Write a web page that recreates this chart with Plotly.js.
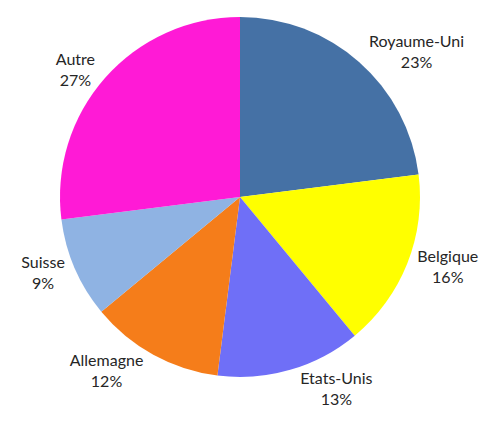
<!DOCTYPE html>
<html>
<head>
<meta charset="utf-8">
<script src="https://cdn.plot.ly/plotly-3.0.1.min.js"></script>
<style>html,body{margin:0;padding:0;background:#fff;}#chart{width:498px;height:421px;}</style>
</head>
<body>
<div id="chart"></div>
<script>
const labels = ["Royaume-Uni", "Belgique", "Etats-Unis", "Allemagne", "Suisse", "Autre"];
const values = [23, 16, 13, 12, 9, 27];
const colors = ["#4571A5", "#FFFF00", "#6F6FF7", "#F57D1A", "#8FB3E3", "#FF1AD6"];

const trace = {
  type: "pie",
  labels: labels,
  values: values,
  sort: false,
  direction: "clockwise",
  rotation: 0,
  marker: {colors: colors, line: {width: 0}},
  textposition: "outside",
  texttemplate: "%{label}<br>%{percent:.0%}",
  textfont: {family: "Lato, 'Open Sans', sans-serif", size: 16, color: "#262626"},
  automargin: false,
  showlegend: false,
  hoverinfo: "none",
  domain: {x: [60/498, 420/498], y: [44/421, 404/421]}
};

Plotly.newPlot("chart", [trace], {
  width: 498, height: 421,
  margin: {l: 0, r: 0, t: 0, b: 0},
  paper_bgcolor: "#fff",
  showlegend: false
}, {displayModeBar: false, staticPlot: true});
</script>
</body>
</html>
